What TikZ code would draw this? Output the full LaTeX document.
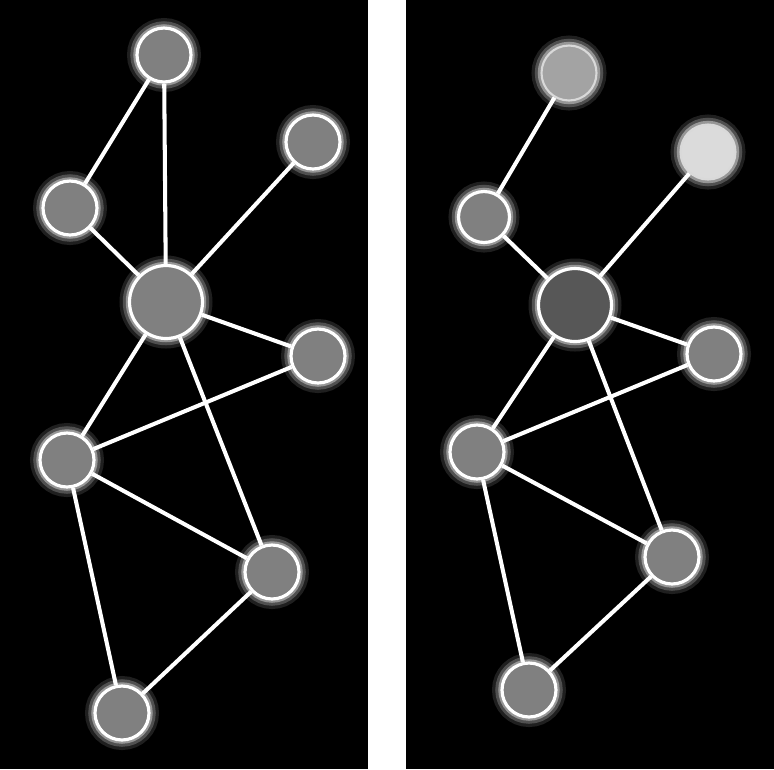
\documentclass[tikz,border=0pt]{standalone}
\begin{document}
\begin{tikzpicture}[x=0.02cm,y=-0.02cm]
\definecolor{nodegray}{gray}{0.5}
\definecolor{hubdark}{gray}{0.34}
\definecolor{paleA}{gray}{0.64}
\definecolor{paleB}{gray}{0.86}
\tikzstyle{glow} = [preaction={draw=white, opacity=0.12, line width=4mm}, preaction={draw=white, opacity=0.22, line width=2.7mm}, preaction={draw=white, opacity=0.4, line width=1.5mm}]
\tikzstyle{dot} = [circle, glow, fill=nodegray, draw=white, line width=1.8pt, minimum size=1.08cm, inner sep=0pt]
\tikzstyle{hub} = [dot, minimum size=1.46cm]
\tikzstyle{soft} = [circle, glow, draw=white!70!gray, line width=1.2pt, minimum size=1.1cm, inner sep=0pt]
\tikzstyle{link} = [white, line width=2.3pt]

\useasboundingbox (0,0) rectangle (774,769);
\fill[white] (0,0) rectangle (774,769);
\fill[black] (0,0) rectangle (368,769);
\fill[black] (406,0) rectangle (774,769);

% left graph
\node (topL) [dot] at (164,55) {};
\node (upL) [dot] at (70,208) {};
\node (farL) [dot] at (313,142) {};
\node (hubL) [hub] at (166,302) {};
\node (midR) [dot] at (318,356) {};
\node (midL) [dot] at (67,460) {};
\node (lowR) [dot] at (272,572) {};
\node (botL) [dot] at (122,713) {};

\draw [link] (topL) -- (upL);
\draw [link] (topL) -- (hubL);
\draw [link] (upL) -- (hubL);
\draw [link] (farL) -- (hubL);
\draw [link] (hubL) -- (midR);
\draw [link] (hubL) -- (midL);
\draw [link] (hubL) -- (lowR);
\draw [link] (midL) -- (midR);
\draw [link] (midL) -- (lowR);
\draw [link] (midL) -- (botL);
\draw [link] (lowR) -- (botL);

% right graph
\node (topR) [soft, fill=paleA] at (569,73) {};
\node (upR) [dot, minimum size=1.02cm] at (484,217) {};
\node (farR) [soft, fill=paleB] at (708,152) {};
\node (hubR) [hub, fill=hubdark] at (575,305) {};
\node (midRR) [dot] at (714,354) {};
\node (midLR) [dot] at (477,452) {};
\node (lowRR) [dot] at (672,557) {};
\node (botR) [dot] at (529,690) {};

\draw [link] (topR) -- (upR);
\draw [link] (upR) -- (hubR);
\draw [link] (farR) -- (hubR);
\draw [link] (hubR) -- (midRR);
\draw [link] (hubR) -- (midLR);
\draw [link] (hubR) -- (lowRR);
\draw [link] (midLR) -- (midRR);
\draw [link] (midLR) -- (lowRR);
\draw [link] (midLR) -- (botR);
\draw [link] (lowRR) -- (botR);
\end{tikzpicture}
\end{document}
